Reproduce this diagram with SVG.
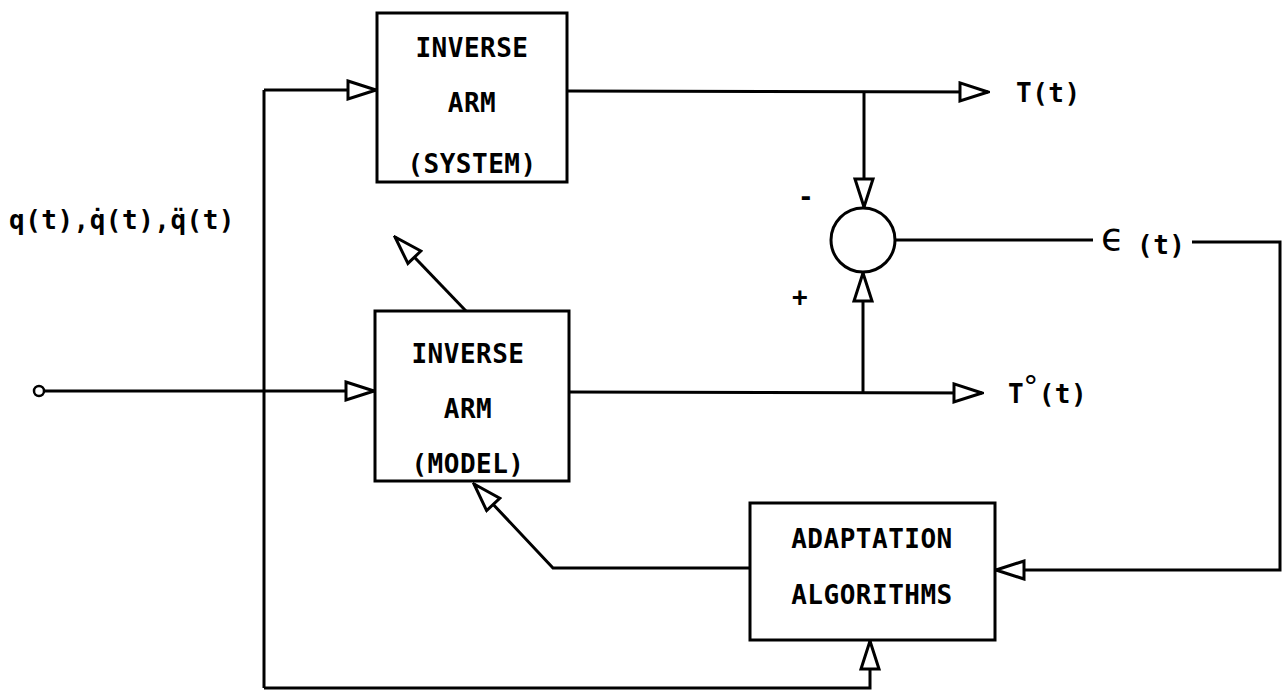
<svg xmlns="http://www.w3.org/2000/svg" width="1287" height="694" viewBox="0 0 1287 694">
<style>
.box{fill:#fff;stroke:#000;stroke-width:3}
.ln{fill:none;stroke:#000;stroke-width:3}
.t{font-family:"DejaVu Sans Mono","Liberation Mono",monospace;font-weight:bold;font-size:26px;letter-spacing:0.5px;fill:#000}
.c{text-anchor:middle}
</style>
<defs>
<marker id="ah" viewBox="0 0 32 22" refX="30" refY="11" markerWidth="32" markerHeight="22" markerUnits="userSpaceOnUse" orient="auto">
<path d="M2,2 L30,11 L2,20 Z" fill="#fff" stroke="#000" stroke-width="3" stroke-linejoin="miter"/>
</marker>
</defs>
<rect width="1287" height="694" fill="#fff"/>
<g id="connectors">
<line class="ln" x1="264" y1="688" x2="264" y2="90"/>
<line class="ln" x1="264" y1="90" x2="376" y2="90" marker-end="url(#ah)"/>
<line class="ln" x1="567" y1="91" x2="988" y2="92" marker-end="url(#ah)"/>
<line class="ln" x1="864" y1="92" x2="864" y2="207" marker-end="url(#ah)"/>
<line class="ln" x1="569" y1="392" x2="982" y2="393" marker-end="url(#ah)"/>
<line class="ln" x1="863" y1="392" x2="863" y2="273" marker-end="url(#ah)"/>
<circle cx="39" cy="391" r="5" fill="#fff" stroke="#000" stroke-width="2.5"/>
<line class="ln" x1="44" y1="391" x2="374" y2="391" marker-end="url(#ah)"/>
<line class="ln" x1="466" y1="311" x2="395" y2="237" marker-end="url(#ah)"/>
<polyline class="ln" points="750,568 553,568 474,484" marker-end="url(#ah)"/>
<line class="ln" x1="895" y1="240" x2="1093" y2="240"/>
<polyline class="ln" points="1192,242 1280,242 1280,570 996,570" marker-end="url(#ah)"/>
<polyline class="ln" points="264,688 870,688 870,641" marker-end="url(#ah)"/>
</g>
<g id="sys">
<rect class="box" x="377" y="13" width="190" height="169"/>
<text class="t c" x="472" y="57">INVERSE</text>
<text class="t c" x="472" y="112">ARM</text>
<text class="t c" x="472" y="173">(SYSTEM)</text>
</g>
<g id="model">
<rect class="box" x="375" y="311" width="194" height="170"/>
<text class="t c" x="468" y="363">INVERSE</text>
<text class="t c" x="468" y="418">ARM</text>
<text class="t c" x="468" y="473">(MODEL)</text>
</g>
<g id="adapt">
<rect class="box" x="750" y="503" width="245" height="137"/>
<text class="t c" x="872" y="548">ADAPTATION</text>
<text class="t c" x="872" y="604">ALGORITHMS</text>
</g>
<g id="sum">
<circle cx="863" cy="240" r="32" fill="#fff" stroke="#000" stroke-width="3"/>
<text class="t" x="798" y="206">-</text>
<text class="t" x="792" y="306">+</text>
</g>
<g id="labels">
<text class="t" x="9" y="229" textLength="226" lengthAdjust="spacingAndGlyphs">q(t),q̇(t),q̈(t)</text>
<text class="t" x="1016" y="102">T(t)</text>
<text class="t" x="1008" y="403">T<tspan style="font-size:30px;font-weight:normal;font-family:'DejaVu Sans',sans-serif" dx="-1" dy="-6">°</tspan><tspan dx="0" dy="6">(t)</tspan></text>
<text x="1101" y="250" style="font-family:'DejaVu Sans',sans-serif;font-size:38px;fill:#000">ϵ</text>
<text class="t" x="1137" y="254">(t)</text>
</g>
</svg>
